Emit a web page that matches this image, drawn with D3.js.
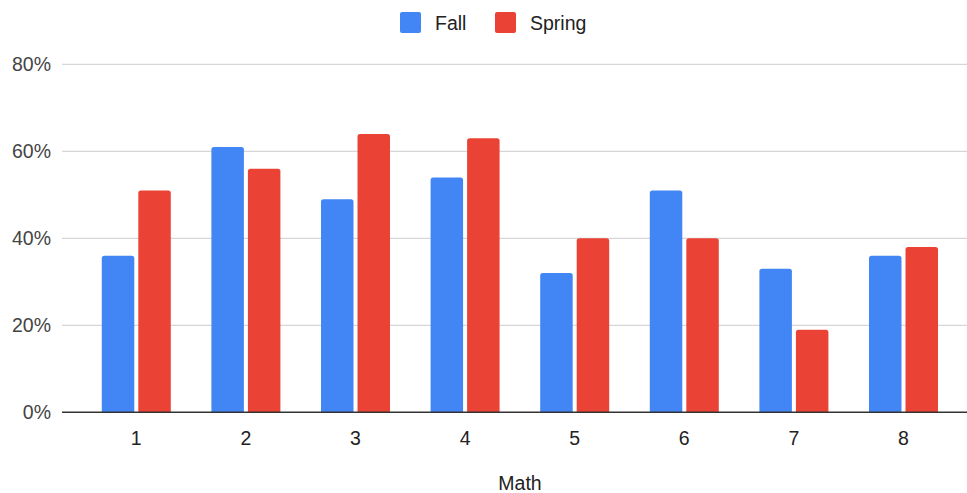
<!DOCTYPE html>
<html>
<head>
<meta charset="utf-8">
<script src="https://cdn.jsdelivr.net/npm/d3@7"></script>
<style>
  html, body { margin: 0; padding: 0; background: #fff; }
  svg { display: block; font-family: "Liberation Sans", Arial, sans-serif; }
</style>
</head>
<body>
<svg id="chart" width="967" height="493"></svg>
<script>
const categories = ["1", "2", "3", "4", "5", "6", "7", "8"];
const seriesNames = ["Fall", "Spring"];
const fallValues = [36, 61, 49, 54, 32, 51, 33, 36];
const springValues = [51, 56, 64, 63, 40, 40, 19, 38];
const yTicks = [0, 20, 40, 60, 80];
const xTitle = "Math";
const colors = ["#4285F4", "#EA4335"];

const svg = d3.select("#chart");
const W = 967, H = 493;
const plotLeft = 62, plotRight = 967;
const y = d3.scaleLinear().domain([0, 80]).range([412.3, 64.3]);
const x0 = d3.scaleBand().domain(categories).range([81.5, 958.3]).paddingInner(0).paddingOuter(0);
const x1 = d3.scaleBand().domain(seriesNames).range([0, x0.bandwidth()]).paddingInner(0.11);

const groupW = 69;
const groupOffset = (x0.bandwidth() - groupW) / 2;
const xInner = d3.scaleBand().domain(seriesNames).range([groupOffset, groupOffset + groupW]).paddingInner(0.11);

// gridlines
svg.append("g").selectAll("line").data(yTicks.filter(d => d !== 0)).join("line")
  .attr("x1", plotLeft).attr("x2", plotRight)
  .attr("y1", d => y(d)).attr("y2", d => y(d))
  .attr("stroke", "#cccccc").attr("stroke-width", 1);

// y tick labels
svg.append("g").selectAll("text").data(yTicks).join("text")
  .attr("x", 51).attr("y", d => y(d))
  .attr("text-anchor", "end").attr("dominant-baseline", "central")
  .attr("font-size", 19.5).attr("fill", "#444")
  .text(d => d + "%");

// bars
const data = categories.map((c, i) => ({ cat: c, values: [fallValues[i], springValues[i]] }));
const groups = svg.append("g").selectAll("g").data(data).join("g")
  .attr("transform", d => `translate(${x0(d.cat)},0)`);
groups.selectAll("path").data(d => d.values.map((v, j) => ({ name: seriesNames[j], v, j }))).join("path")
  .attr("fill", d => colors[d.j])
  .attr("d", d => {
    const bx = xInner(d.name), bw = xInner.bandwidth();
    const top = y(d.v), bot = y(0), r = 2.5;
    return `M${bx},${bot} L${bx},${top + r} Q${bx},${top} ${bx + r},${top} L${bx + bw - r},${top} Q${bx + bw},${top} ${bx + bw},${top + r} L${bx + bw},${bot} Z`;
  });

// baseline
svg.append("line").attr("x1", plotLeft).attr("x2", plotRight)
  .attr("y1", y(0)).attr("y2", y(0)).attr("stroke", "#333").attr("stroke-width", 1.5);

// x labels
svg.append("g").selectAll("text").data(categories).join("text")
  .attr("x", d => x0(d) + x0.bandwidth() / 2).attr("y", 445)
  .attr("text-anchor", "middle")
  .attr("font-size", 19.5).attr("fill", "#222")
  .text(d => d);

// x title
svg.append("text").attr("x", 520).attr("y", 490)
  .attr("text-anchor", "middle").attr("font-size", 19.5).attr("fill", "#222")
  .text(xTitle);

// legend
const legendItems = [{ name: "Fall", x: 400 }, { name: "Spring", x: 495 }];
const lg = svg.append("g").selectAll("g").data(seriesNames).join("g")
  .attr("transform", (d, i) => `translate(${legendItems[i].x},12)`);
lg.append("rect").attr("width", 21).attr("height", 21).attr("rx", 2)
  .attr("fill", (d, i) => colors[i]);
lg.append("text").attr("x", 35).attr("y", 18).attr("font-size", 19.5).attr("fill", "#222")
  .text(d => d);
</script>
</body>
</html>
